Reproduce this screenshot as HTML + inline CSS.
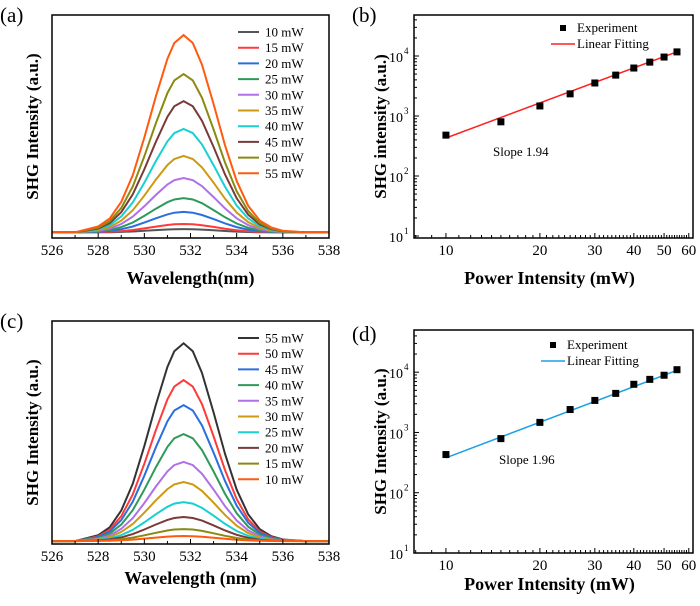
<!DOCTYPE html>
<html><head><meta charset="utf-8"><style>
body{margin:0;background:#fff;width:700px;height:601px;overflow:hidden}
svg{font-family:"Liberation Serif",serif}
</style></head><body>
<svg id="fig" width="700" height="601"></svg>
<script>
// ---- data ----
const wavelengths=[526,527,528,528.5,529,529.5,530,530.5,531,531.3,531.7,532.1,532.5,533,533.5,534,534.5,535,535.5,536,537,538];
const profile=[0,0,0.03,0.07,0.155,0.29,0.48,0.69,0.88,0.96,1,0.96,0.85,0.65,0.44,0.26,0.135,0.06,0.025,0.008,0,0];
const powersA=["10 mW","15 mW","20 mW","25 mW","30 mW","35 mW","40 mW","45 mW","50 mW","55 mW"];
const peaksA=[1.5,3.8,9.2,15.4,24.4,34.3,46.4,58.9,71,88.5];
const baseA=2.5;
const colorsA=["#555555","#ff3a3a","#2a6fe0","#2e9a5a","#b070e8","#cc9a10","#18d0d0","#7a3a3a","#8a8a10","#ff5a10"];
const powersC=["55 mW","50 mW","45 mW","40 mW","35 mW","30 mW","25 mW","20 mW","15 mW","10 mW"];
const peaksC=[88.7,72.2,61,48,35.5,26.5,17.5,10.8,5.4,2.3];
const baseC=1.3;
const colorsC=["#333333","#ff3a3a","#2a6fe0","#2e9a5a","#b070e8","#cc9a10","#18d0d0","#7a3a3a","#8a8a10","#ff5a10"];
const powerX=[10,15,20,25,30,35,40,45,50,55];
const expB=[480,800,1470,2340,3550,4800,6300,7900,9600,11700];
const fitB=[430,1.94];
const expD=[430,790,1470,2400,3400,4450,6300,7600,8900,11000];
const fitD=[380,1.96];
const xTicksSpec=[526,528,530,532,534,536,538];
const xTicksLog=[10,20,30,40,50,60];
const yTicksLog=[1,2,3,4];

const NS="http://www.w3.org/2000/svg";
const svg=document.getElementById('fig');
function el(tag,attrs,parent,txt){const e=document.createElementNS(NS,tag);for(const k in attrs)e.setAttribute(k,attrs[k]);if(txt!==undefined)e.textContent=txt;(parent||svg).appendChild(e);return e;}

function spectrum(px,py,label,peaks,base,colors,names,xTitle,legTop,titleOff){
  const L=52,R=329,T=py,B=py+223;
  const g=el('g',{});
  
  
  const sx=v=>L+(v-526)/12*(R-L), sy=v=>B-v/100*(B-T);
  for(let i=0;i<peaks.length;i++){
    let d='';
    wavelengths.forEach((w,j)=>{d+=(j?'L':'M')+sx(w).toFixed(1)+','+sy(base+peaks[i]*profile[j]).toFixed(1);});
    const p=el('path',{d:d,fill:'none',stroke:colors[i],'stroke-width':2},g);
    
    
  }
  el('rect',{x:L,y:T,width:R-L,height:B-T,fill:'none',stroke:'#000','stroke-width':1.5},g);
  xTicksSpec.forEach(v=>{const x=sx(v);el('line',{x1:x,x2:x,y1:B,y2:B-5,stroke:'#000'},g);
    const t=el('text',{x:x,y:B+17,'text-anchor':'middle','font-size':15},g,v);
    
    if(v<538)el('line',{x1:sx(v+1),x2:sx(v+1),y1:B,y2:B-3,stroke:'#000'},g);});
  const xt=el('text',{x:(L+R)/2,y:B+titleOff,'text-anchor':'middle','font-size':18,'font-weight':'bold'},g,xTitle);
  
  const yt=el('text',{x:0,y:0,'text-anchor':'middle','font-size':17,'font-weight':'bold',transform:`translate(38,${(T+B)/2}) rotate(-90)`},g,'SHG Intensity (a.u.)');
  
  const pl=el('text',{x:0,y:py+7,'font-size':21},g,'('+label+')');
  
  names.forEach((n,i)=>{const y=legTop+i*15.7;
    el('line',{x1:238,x2:259,y1:y,y2:y,stroke:colors[i],'stroke-width':2},g);
    const t=el('text',{x:265,y:y+4.5,'font-size':13},g,n);
    });
}

function logPanel(py,label,exp,fit,color,ytitle,yTop,yBot,legY,slopeTxt,slopePos,titleOff){
  const L=414,R=693,T=py,B=py+223;
  const g=el('g',{});
  
  
  const lxmin=Math.log10(7.9),lxmax=Math.log10(61.9);
  const sx=v=>L+(Math.log10(v)-lxmin)/(lxmax-lxmin)*(R-L);
  const sy=v=>B-(Math.log10(v)-yBot)/(yTop-yBot)*(B-T);
  el('rect',{x:L,y:T,width:R-L,height:B-T,fill:'none',stroke:'#000','stroke-width':1.5},g);
  for(let v=8;v<=60;v++){const x=sx(v);const major=xTicksLog.includes(v);
    el('line',{x1:x,x2:x,y1:B,y2:B-(major?5:3),stroke:'#000'},g);}
  xTicksLog.forEach(v=>{const t=el('text',{x:sx(v),y:B+17,'text-anchor':'middle','font-size':15},g,v);
    });
  for(let e=1;e<=4;e++){for(let m=1;m<10;m++){const v=m*Math.pow(10,e);const y=sy(v);if(y<T)break;
      el('line',{x1:L,x2:L+(m==1?5:3),y1:y,y2:y,stroke:'#000'},g);}}
  yTicksLog.forEach(e=>{const y=sy(Math.pow(10,e));
    const t=el('text',{x:L-11,y:y+6,'text-anchor':'end','font-size':14},g,'10');
    
    el('text',{x:L-10,y:y-2,'font-size':9},g,e);});
  const f=v=>fit[0]*Math.pow(v/10,fit[1]);
  const fl=el('line',{x1:sx(10),y1:sy(f(10)),x2:sx(55),y2:sy(f(55)),stroke:color,'stroke-width':1.5},g);
  
  exp.forEach((v,i)=>{const r=el('rect',{x:sx(powerX[i])-3.5,y:sy(v)-3.5,width:7,height:7,fill:'#000'},g);
    });
  el('rect',{x:legY[0]-3,y:legY[1]-3,width:6,height:6,fill:'#000'},g);
  el('text',{x:legY[0]+14,y:legY[1]+4,'font-size':13},g,'Experiment');
  el('line',{x1:legY[0]-12,x2:legY[0]+12,y1:legY[1]+16,y2:legY[1]+16,stroke:color,'stroke-width':1.5},g);
  el('text',{x:legY[0]+14,y:legY[1]+20,'font-size':13},g,'Linear Fitting');
  const st=el('text',{x:slopePos[0],y:slopePos[1],'font-size':13},g,slopeTxt);
  
  const xt=el('text',{x:(L+R)/2-4,y:B+titleOff,'text-anchor':'middle','font-size':18,'font-weight':'bold'},g,'Power Intensity (mW)');
  
  const yt=el('text',{x:0,y:0,'text-anchor':'middle','font-size':17,'font-weight':'bold',transform:`translate(386,${(T+B)/2}) rotate(-90)`},g,ytitle);
  
  const pl=el('text',{x:352,y:py+(label=='b'?7:11),'font-size':21},g,'('+label+')');
  
}

spectrum(0,15,'a',peaksA,baseA,colorsA,powersA,'Wavelength(nm)',32,46);
spectrum(0,321,'c',peaksC,baseC,colorsC,powersC,'Wavelength (nm)',338,40);
logPanel(15,'b',expB,fitB,'#ff2020','SHG intensity (a.u.)',4.683,0.967,[563,28],'Slope 1.94',[493,156],46);
logPanel(330,'d',expD,fitD,'#1aa0e8','SHG Intensity (a.u.)',4.7,1.0,[553,345],'Slope 1.96',[499,464],37);
</script>
</body></html>
